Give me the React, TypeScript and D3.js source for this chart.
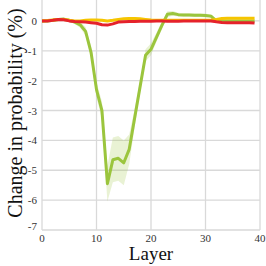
import * as d3 from 'd3';

const WIDTH = 266;
const HEIGHT = 266;
const MARGINS = { top: 0, right: 6, bottom: 36, left: 42 };

const layers = d3.range(0, 40);

// change in probability (%) per layer
const greenValues = [
  0.0, 0.0, 0.02, 0.05, 0.06, 0.02, -0.04, -0.13, -0.35, -1.05,
  -2.3, -3.0, -5.45, -4.65, -4.6, -4.75, -4.3, -3.25, -2.2, -1.15,
  -0.95, -0.55, -0.15, 0.22, 0.25, 0.21, 0.2, 0.2, 0.19, 0.19,
  0.18, 0.16, 0.0, 0.0, 0.0, 0.0, 0.0, 0.0, 0.0, 0.0,
];
const greenSpread = [
  0.05, 0.05, 0.05, 0.05, 0.05, 0.05, 0.06, 0.1, 0.15, 0.2,
  0.25, 0.3, 0.6, 0.75, 0.75, 0.75, 0.5, 0.3, 0.2, 0.2,
  0.2, 0.15, 0.12, 0.1, 0.08, 0.06, 0.06, 0.06, 0.06, 0.06,
  0.06, 0.06, 0.05, 0.05, 0.05, 0.05, 0.05, 0.05, 0.05, 0.05,
];
const yellowValues = [
  0.0, 0.01, 0.03, 0.05, 0.05, 0.02, 0.0, 0.0, 0.02, 0.03,
  0.03, 0.02, 0.0, 0.02, 0.05, 0.07, 0.08, 0.08, 0.07, 0.05,
  0.03, 0.02, 0.02, 0.02, 0.02, 0.02, 0.02, 0.02, 0.02, 0.02,
  0.02, 0.03, 0.05, 0.08, 0.09, 0.09, 0.09, 0.09, 0.09, 0.09,
];
const redValues = [
  0.0, 0.0, 0.02, 0.05, 0.04, 0.0, -0.02, -0.03, -0.04, -0.06,
  -0.08, -0.13, -0.14, -0.1, -0.04, -0.03, -0.02, -0.02, -0.01, -0.01,
  -0.01, 0.0, 0.0, -0.01, -0.01, -0.01, 0.0, 0.0, 0.0, 0.0,
  0.0, 0.0, -0.03, -0.05, -0.06, -0.06, -0.06, -0.06, -0.06, -0.07,
];

const xTicks = [0, 10, 20, 30, 40];
const yTicks = [0, -1, -2, -3, -4, -5, -6, -7];

const FONT = '"Liberation Serif", "DejaVu Serif", serif';
const GRID = '#d9d9d9';

export default function App() {
  const x = d3
    .scaleLinear()
    .domain([0, 40])
    .range([MARGINS.left, WIDTH - MARGINS.right]);
  const y = d3
    .scaleLinear()
    .domain([-7, 0.7])
    .range([HEIGHT - MARGINS.bottom, MARGINS.top]);

  const line = d3
    .line<number>()
    .x((_, i) => x(layers[i]))
    .y((d) => y(d));

  const band = d3
    .area<number>()
    .x((_, i) => x(layers[i]))
    .y0((d, i) => y(d - greenSpread[i]))
    .y1((d, i) => y(d + greenSpread[i]));

  return (
    <div style={{ position: 'fixed', left: 0, top: 0 }}>
      <svg width={WIDTH} height={HEIGHT} style={{ display: 'block', background: '#fff' }}>
        {/* grid */}
        {xTicks.map((t) => (
          <line
            key={`gx${t}`}
            x1={x(t)}
            x2={x(t)}
            y1={y(0.7)}
            y2={y(-7)}
            stroke={GRID}
            strokeWidth={1.3}
          />
        ))}
        {yTicks.map((t) => (
          <line
            key={`gy${t}`}
            x1={x(0)}
            x2={x(40)}
            y1={y(t)}
            y2={y(t)}
            stroke={GRID}
            strokeWidth={1.3}
          />
        ))}

        {/* series */}
        <path d={band(greenValues) ?? ''} fill='#9bc53d' fillOpacity={0.22} />
        <path
          d={line(greenValues) ?? ''}
          fill='none'
          stroke='#9bc53d'
          strokeWidth={3}
          strokeLinejoin='round'
        />
        <path
          d={line(yellowValues) ?? ''}
          fill='none'
          stroke='#f6c500'
          strokeWidth={3}
          strokeLinejoin='round'
        />
        <path
          d={line(redValues) ?? ''}
          fill='none'
          stroke='#e5222b'
          strokeWidth={3}
          strokeLinejoin='round'
        />

        {/* tick labels */}
        {yTicks.map((t) => (
          <text
            key={`ty${t}`}
            x={x(0) - 5}
            y={y(t) + (t === -7 ? 0 : 4)}
            textAnchor='end'
            fontFamily={FONT}
            fontSize={11}
            fill='#333'
          >
            {t}
          </text>
        ))}
        {xTicks.map((t) => (
          <text
            key={`tx${t}`}
            x={x(t)}
            y={y(-7) + 12}
            textAnchor='middle'
            fontFamily={FONT}
            fontSize={11}
            fill='#333'
          >
            {t}
          </text>
        ))}

        {/* axis titles */}
        <text
          x={(x(0) + x(40)) / 2}
          y={260}
          textAnchor='middle'
          fontFamily={FONT}
          fontSize={19}
          fill='#111'
        >
          Layer
        </text>
        <text
          transform={`translate(22,${113}) rotate(-90)`}
          textAnchor='middle'
          fontFamily={FONT}
          fontSize={20}
          fill='#111'
        >
          Change in probability (%)
        </text>
      </svg>
    </div>
  );
}
